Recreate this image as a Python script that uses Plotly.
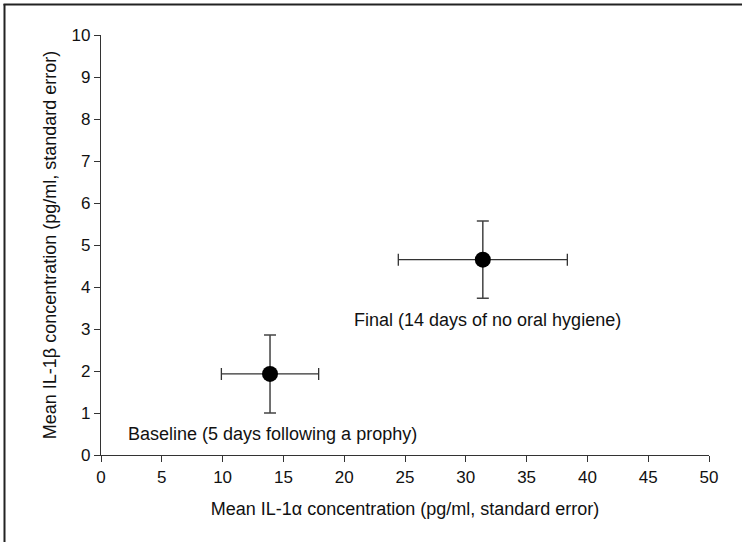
import plotly.graph_objects as go

# Mean cytokine concentrations (pg/ml) with standard errors
labels = ["Baseline (5 days following a prophy)", "Final (14 days of no oral hygiene)"]
il1a_mean = [13.9, 31.4]
il1a_se = [4.0, 6.95]
il1b_mean = [1.93, 4.65]
il1b_se = [0.93, 0.92]

x_ticks = [0, 5, 10, 15, 20, 25, 30, 35, 40, 45, 50]
y_ticks = [0, 1, 2, 3, 4, 5, 6, 7, 8, 9, 10]

W, H = 745, 542
L, R, T, B = 101, 36, 35, 87
pw, ph = W - L - R, H - T - B

fig = go.Figure()
fig.add_trace(go.Scatter(
    x=il1a_mean, y=il1b_mean, mode="markers",
    marker=dict(size=16, color="black"),
    error_x=dict(type="data", array=il1a_se, color="#333333", thickness=1.3, width=6),
    error_y=dict(type="data", array=il1b_se, color="#444444", thickness=1.5, width=6),
    showlegend=False, hoverinfo="x+y",
))

tick_font = dict(family="Liberation Sans, Arial, sans-serif", size=17, color="#111111")
text_font = dict(family="Liberation Sans, Arial, sans-serif", size=18, color="#111111")

fig.update_layout(
    width=W, height=H,
    margin=dict(l=L, r=R, t=T, b=B),
    paper_bgcolor="white", plot_bgcolor="white",
    font=tick_font,
    xaxis=dict(range=[0, 50], tickvals=x_ticks, ticks="outside", ticklen=6,
               tickcolor="#333", showline=True, linecolor="#333", linewidth=1.3,
               showgrid=False, zeroline=False, tickfont=tick_font,
               title=dict(text="Mean IL-1α concentration (pg/ml, standard error)",
                          font=text_font, standoff=16)),
    yaxis=dict(range=[0, 10], tickvals=y_ticks, ticks="outside", ticklen=6,
               tickcolor="#333", showline=True, linecolor="#333", linewidth=1.3,
               showgrid=False, zeroline=False, tickfont=tick_font,
               title=dict(text="Mean IL-1β concentration (pg/ml, standard error)",
                          font=text_font, standoff=10)),
)

# Point labels
fig.add_annotation(x=il1a_mean[0], y=il1b_mean[0], text=labels[0], showarrow=False,
                   xref="x", yref="y", xanchor="left", yanchor="middle",
                   xshift=(126 - L) - il1a_mean[0] * pw / 50,
                   yshift=(374 - 434), font=text_font)
fig.add_annotation(x=il1a_mean[1], y=il1b_mean[1], text=labels[1], showarrow=False,
                   xref="x", yref="y", xanchor="left", yanchor="middle",
                   xshift=(352 - L) - il1a_mean[1] * pw / 50,
                   yshift=(260 - 320), font=text_font)

# Figure frame (left and top edges)
def px(v):
    return (v - L) / pw

def py(v):
    return (H - B - v) / ph

fig.add_shape(type="line", xref="paper", yref="paper",
              x0=px(4.5), x1=px(4.5), y0=py(4), y1=py(H + 2),
              line=dict(color="#222", width=2))
fig.add_shape(type="line", xref="paper", yref="paper",
              x0=px(3.5), x1=px(742), y0=py(4.5), y1=py(4.5),
              line=dict(color="#222", width=2))

fig.write_html("out.html")
